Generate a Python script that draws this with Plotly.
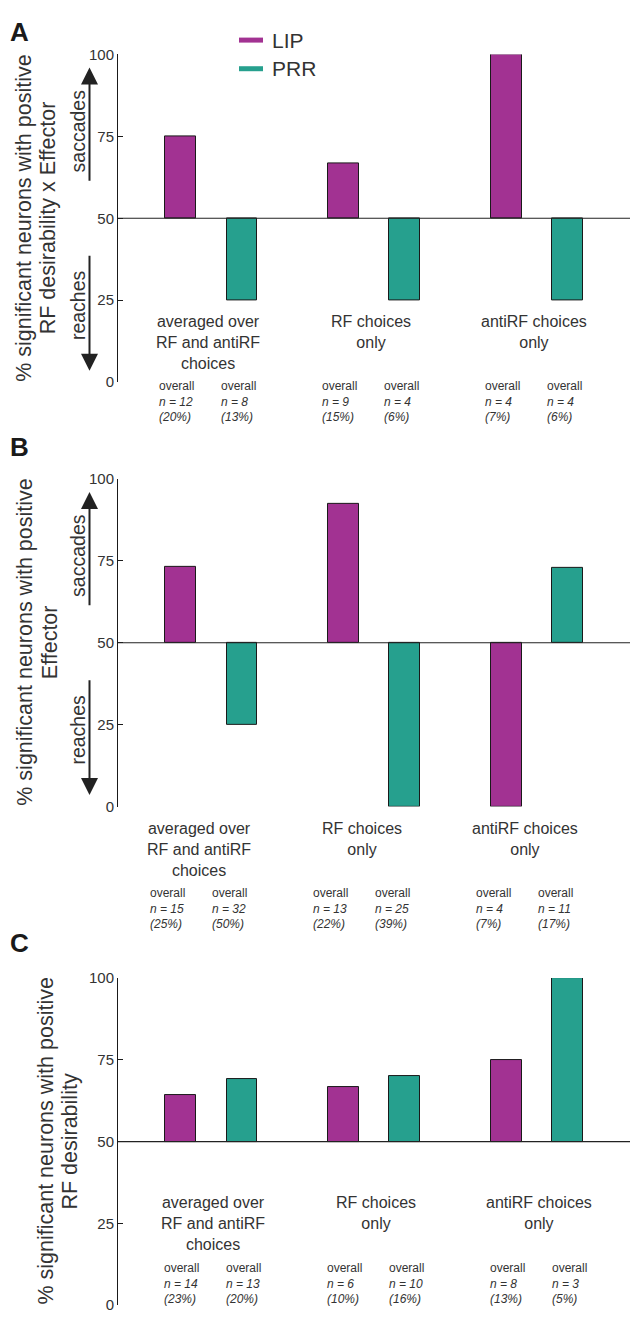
import plotly.graph_objects as go

W, H = 630, 1319

areas = ["LIP", "PRR"]
colors = {"LIP": "#a23292", "PRR": "#26a08e"}
group_labels = [
    "averaged over<br>RF and antiRF<br>choices",
    "RF choices<br>only",
    "antiRF choices<br>only",
]
panel_letters = ["A", "B", "C"]
panel_titles = [
    ["% significant neurons with positive", "RF desirability x Effector"],
    ["% significant neurons with positive", "Effector"],
    ["% significant neurons with positive", "RF desirability"],
]
yticks = [0, 25, 50, 75, 100]

# % significant neurons, per choice group (averaged, RF, antiRF)
lip_A = [75, 66.7, 100]
prr_A = [25, 25, 25]
lip_B = [73.3, 92.3, 0]
prr_B = [25, 0, 72.7]
lip_C = [64.3, 66.7, 75]
prr_C = [69.2, 70, 100]

# overall counts and percentages
n_lip_A = [12, 9, 4]
pct_lip_A = [20, 15, 7]
n_prr_A = [8, 4, 4]
pct_prr_A = [13, 6, 6]
n_lip_B = [15, 13, 4]
pct_lip_B = [25, 22, 7]
n_prr_B = [32, 25, 11]
pct_prr_B = [50, 39, 17]
n_lip_C = [14, 6, 8]
pct_lip_C = [23, 10, 13]
n_prr_C = [13, 10, 3]
pct_prr_C = [20, 16, 5]

values = [
    {"LIP": lip_A, "PRR": prr_A},
    {"LIP": lip_B, "PRR": prr_B},
    {"LIP": lip_C, "PRR": prr_C},
]
counts = [
    {"LIP": (n_lip_A, pct_lip_A), "PRR": (n_prr_A, pct_prr_A)},
    {"LIP": (n_lip_B, pct_lip_B), "PRR": (n_prr_B, pct_prr_B)},
    {"LIP": (n_lip_C, pct_lip_C), "PRR": (n_prr_C, pct_prr_C)},
]

# layout helpers (pixel positions in the 630x1319 page)
FONT = "Liberation Sans, Arial, sans-serif"
TXT = "#333333"
AX_LEFT = 118
GROUP_PX = 162.9
X_RANGE = [0.4276, 0.4276 + (W - AX_LEFT) / GROUP_PX]
BAR_OFF = 0.1888
BAR_W = 0.19
panels = [
    # top px of 100, bottom px of 0, text shift px, label y, small y (axis units), title x px
    dict(top=46, bot=378, shift=0, lab_y=21.8, small_y=-5.8, tx=(24.5, 48), arrows=True),
    dict(top=476, bot=808, shift=-9, lab_y=-3.5, small_y=-31.2, tx=(25, 49.5), arrows=True),
    dict(top=981.7, bot=1313, shift=5, lab_y=34.6, small_y=6.7, tx=(46, 70), arrows=False),
]
letter_pos = [(19, 23), (19, 444), (19, 946)]


def px(x):
    return x / W


def py(y):
    return 1 - y / H


fig = go.Figure()
annotations = []
shapes = []

for i, p in enumerate(panels):
    xa = "x" if i == 0 else f"x{i + 1}"
    ya = "y" if i == 0 else f"y{i + 1}"
    groups = list(range(1, len(group_labels) + 1))

    for a, area in enumerate(areas):
        off = -BAR_OFF if area == "LIP" else BAR_OFF
        vals = values[i][area]
        fig.add_trace(
            go.Bar(
                x=[g + off for g in groups],
                y=[v - 50 for v in vals],
                base=50,
                width=BAR_W,
                name=area,
                marker=dict(color=colors[area], line=dict(color="#1a1a1a", width=1)),
                showlegend=False,
                xaxis=xa,
                yaxis=ya,
                hovertemplate=area + ": %{customdata:.1f}%<extra></extra>",
                customdata=vals,
            )
        )
        ns, pcts = counts[i][area]
        for g, n, pc in zip(groups, ns, pcts):
            annotations.append(
                dict(
                    x=g + off + (-23 + p["shift"]) / GROUP_PX,
                    y=p["small_y"] / 100,
                    xref=xa,
                    yref=f"{ya} domain",
                    text=f"overall<br><i>n = {n}</i><br><i>({pc}%)</i>",
                    showarrow=False,
                    xanchor="left",
                    yanchor="middle",
                    align="left",
                    font=dict(size=12, color=TXT, family=FONT),
                )
            )

    for g, lab in zip(groups, group_labels):
        annotations.append(
            dict(
                x=g + (-3 + p["shift"]) / GROUP_PX,
                y=p["lab_y"] / 100,
                xref=xa,
                yref=f"{ya} domain",
                text=lab,
                showarrow=False,
                xanchor="center",
                yanchor="top",
                align="center",
                font=dict(size=16, color=TXT, family=FONT),
            )
        )

    # line at 50 %
    shapes.append(
        dict(
            type="line",
            xref=f"{xa} domain",
            yref=ya,
            x0=0,
            x1=1,
            y0=50,
            y1=50,
            line=dict(color="#222222", width=1.2),
        )
    )

    # axis title, two lines
    for line_txt, cx in zip(panel_titles[i], p["tx"]):
        annotations.append(
            dict(
                x=px(cx),
                y=50,
                xref="paper",
                yref=ya,
                text=line_txt,
                textangle=-90,
                showarrow=False,
                xanchor="center",
                yanchor="middle",
                font=dict(size=21.5, color=TXT, family=FONT),
            )
        )

    if p["arrows"]:
        for head, tail, word, wy in [(96, 61, "saccades", 76.5), (3.5, 39, "reaches", 23.5)]:
            annotations.append(
                dict(
                    x=px(89.5),
                    y=head,
                    xref="paper",
                    yref=ya,
                    ax=0,
                    ay=tail,
                    axref="pixel",
                    ayref=ya,
                    text="",
                    showarrow=True,
                    arrowhead=2,
                    arrowsize=1.7,
                    arrowwidth=2,
                    arrowcolor="#222222",
                    standoff=0,
                )
            )
            annotations.append(
                dict(
                    x=px(78),
                    y=wy,
                    xref="paper",
                    yref=ya,
                    text=word,
                    textangle=-90,
                    showarrow=False,
                    xanchor="center",
                    yanchor="middle",
                    font=dict(size=19.5, color=TXT, family=FONT),
                )
            )

    # panel letter
    lx, ly = letter_pos[i]
    annotations.append(
        dict(
            x=px(lx),
            y=py(ly),
            xref="paper",
            yref="paper",
            text=f"<b>{panel_letters[i]}</b>",
            showarrow=False,
            xanchor="center",
            yanchor="middle",
            font=dict(size=26, color="#1a1a1a", family=FONT),
        )
    )

    dom = [py(p["bot"]), py(p["top"])]
    fig.update_layout(
        {
            ("xaxis" if i == 0 else f"xaxis{i + 1}"): dict(
                domain=[px(AX_LEFT), 1],
                range=X_RANGE,
                visible=False,
                anchor=ya,
            ),
            ("yaxis" if i == 0 else f"yaxis{i + 1}"): dict(
                domain=dom,
                range=[0, 100],
                tickvals=yticks,
                ticks="inside",
                ticklen=5,
                tickcolor="#1a1a1a",
                showline=True,
                linecolor="#1a1a1a",
                linewidth=1,
                showgrid=False,
                zeroline=False,
                tickfont=dict(size=15, color=TXT, family=FONT),
                anchor=xa,
            ),
        }
    )

# legend drawn by hand
for area, ly in [("LIP", 31.5), ("PRR", 60.5)]:
    shapes.append(
        dict(
            type="line",
            xref="paper",
            yref="paper",
            x0=px(239),
            x1=px(263),
            y0=py(ly),
            y1=py(ly),
            line=dict(color=colors[area], width=5),
        )
    )
    annotations.append(
        dict(
            x=px(270),
            y=py(ly),
            xref="paper",
            yref="paper",
            text=area,
            showarrow=False,
            xanchor="left",
            yanchor="middle",
            font=dict(size=21, color=TXT, family=FONT),
        )
    )

fig.update_layout(
    width=W,
    height=H,
    margin=dict(l=0, r=0, t=0, b=0),
    paper_bgcolor="white",
    plot_bgcolor="white",
    showlegend=False,
    bargap=0,
    annotations=annotations,
    shapes=shapes,
    font=dict(family=FONT, color=TXT),
)

fig.write_html(
    "out.html",
    config={"displayModeBar": False},
    post_script="document.body.style.margin='0';document.body.style.overflow='hidden';",
)
